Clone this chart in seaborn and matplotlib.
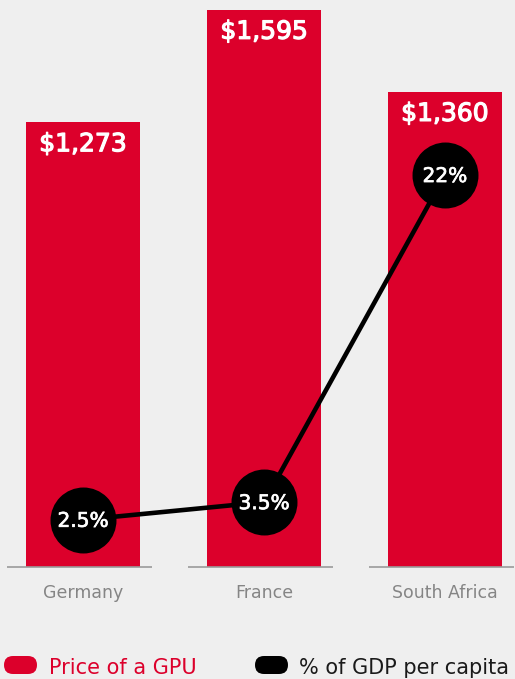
import matplotlib
matplotlib.use("Agg")
import matplotlib.pyplot as plt
import matplotlib.patheffects as pe
from matplotlib.patches import FancyBboxPatch
from matplotlib.transforms import IdentityTransform
import numpy as np
import pandas as pd
import seaborn as sns

countries = ["Germany", "France", "South Africa"]
gpu_price = [1273, 1595, 1360]
gdp_share = [2.5, 3.5, 22]
price_labels = ["$1,273", "$1,595", "$1,360"]
share_labels = ["2.5%", "3.5%", "22%"]

RED = "#dc002b"
BG = "#efefef"
FONT = ["DejaVu Sans"]

sns.set_theme(style="white")
plt.rcParams["font.family"] = FONT

W, H = 515, 679
fig = plt.figure(figsize=(W / 100, H / 100), dpi=100, facecolor=BG)
ax = fig.add_axes([0, (H - 567) / H, 1, 567 / H])
ax.set_facecolor(BG)

df = pd.DataFrame({"country": countries, "price": gpu_price, "share": gdp_share})

sns.barplot(data=df, x="country", y="price", color=RED, width=0.63,
            saturation=1, ax=ax, edgecolor="none")
ax.set_xlim(-0.459, 2.387)
ax.set_ylim(0, 1623)

thick = [pe.withStroke(linewidth=0.9, foreground="white")]

# price labels inside the top of each bar
for i, (v, lab) in enumerate(zip(gpu_price, price_labels)):
    ax.annotate(lab, (i, v), xytext=(0, -29), textcoords="offset pixels",
                ha="center", va="baseline", color="white", fontsize=18,
                path_effects=thick)

# short baseline segment under each category
for i in range(len(countries)):
    ax.plot([i - 0.42, i + 0.38], [0, 0], color="#9a9a9a", lw=1.2,
            solid_capstyle="butt", clip_on=False, zorder=3)

ax.set_xlabel("")
ax.set_ylabel("")
ax.set_yticks([])
ax.tick_params(axis="x", length=0, pad=12, labelsize=12.5, labelcolor="#858585")
for s in ax.spines.values():
    s.set_visible(False)

ax2 = ax.twinx()
ax2.set_ylim(-0.17, 31.9)
sns.lineplot(x=np.arange(len(countries)), y=gdp_share, ax=ax2, color="black",
             lw=3.3, marker="o", markersize=47.5, markeredgewidth=0,
             markerfacecolor="black")
for i, (v, lab) in enumerate(zip(gdp_share, share_labels)):
    ax2.annotate(lab, (i, v), xytext=(0, -7), textcoords="offset pixels",
                 ha="center", va="baseline", color="white", fontsize=14.5,
                 path_effects=[pe.withStroke(linewidth=0.5, foreground="white")])
ax2.set_yticks([])
ax2.set_ylabel("")
for s in ax2.spines.values():
    s.set_visible(False)

# legend with stadium-shaped swatches, placed in pixel units
def pill(x, y, color):
    p = FancyBboxPatch((x, H - (y + 9)), 33, 18,
                       boxstyle="round,pad=0,rounding_size=9",
                       transform=IdentityTransform(), facecolor=color,
                       edgecolor="none")
    fig.patches.append(p)

pill(4, 665, RED)
fig.text(49 / W, 1 - 674 / H, "Price of a GPU", color=RED, fontsize=15,
         va="baseline", ha="left")
pill(255, 665, "black")
fig.text(299 / W, 1 - 674 / H, "% of GDP per capita", color="#1a1a1a",
         fontsize=15, va="baseline", ha="left")

fig.savefig("out.png", dpi=100, facecolor=BG)
